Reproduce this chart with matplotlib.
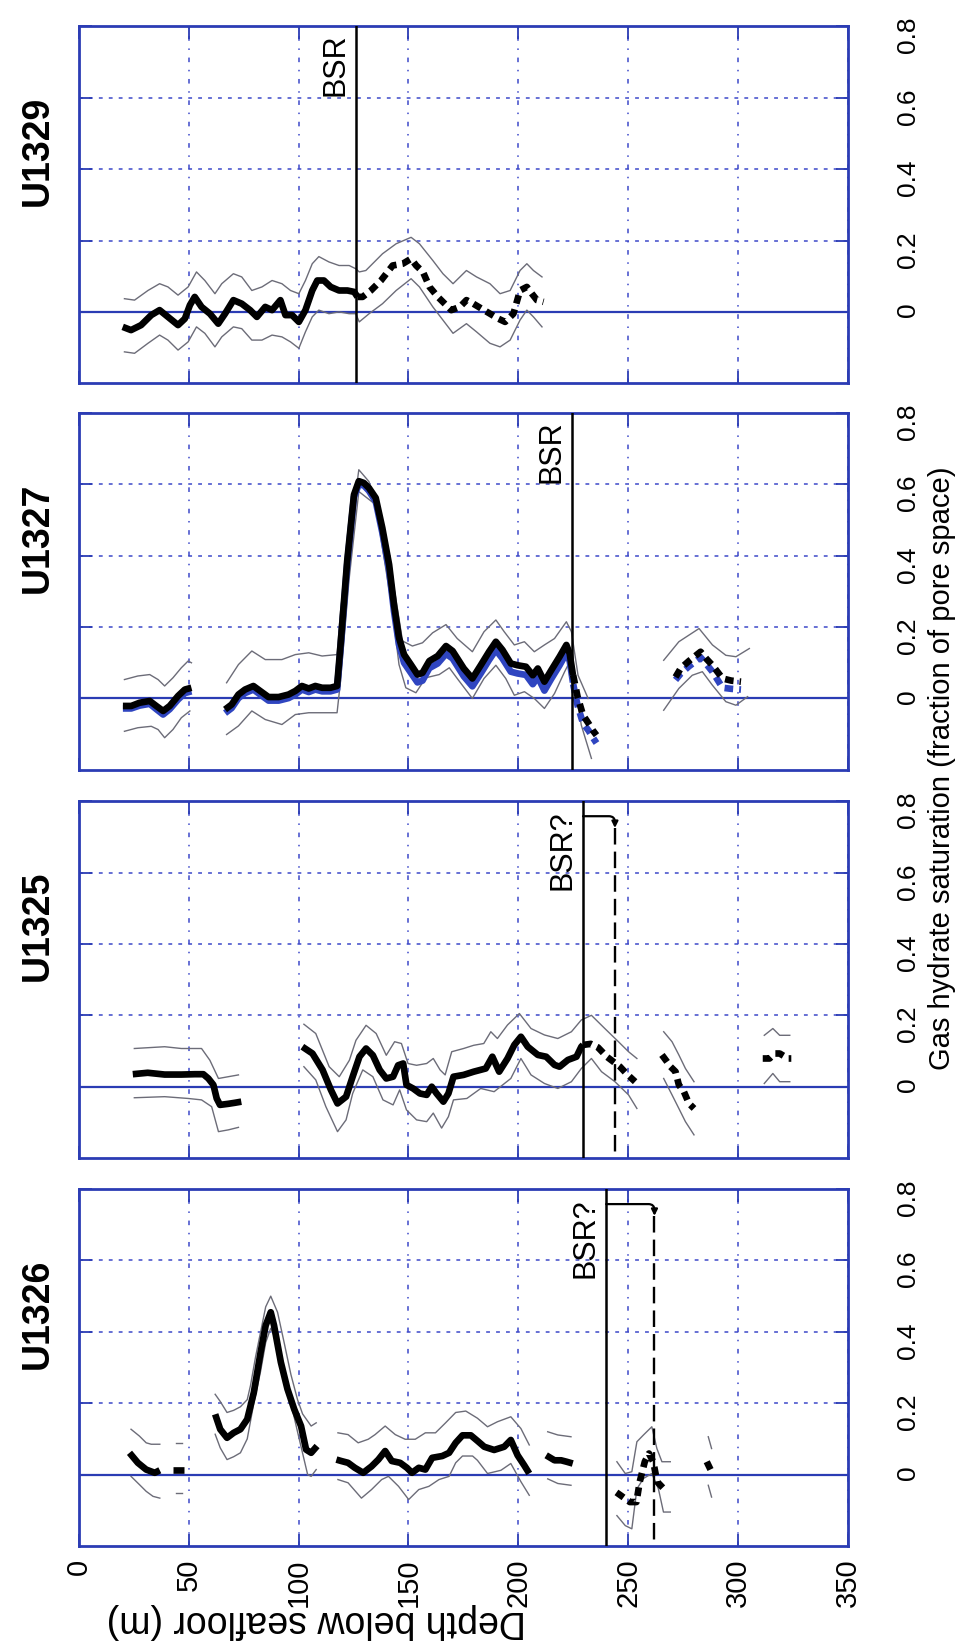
import matplotlib
matplotlib.use('Agg')
import matplotlib.pyplot as plt

plt.rcParams['font.family'] = ['Liberation Sans', 'DejaVu Sans']

BLUE = '#2b3cb4'
GRIDC = '#3d49c9'
GREY = '#6c6c78'
LINEBLUE = '#2f45c0'

DEPTH_TICKS = [0, 50, 100, 150, 200, 250, 300, 350]
DEPTH_LABELS = ['0', '50', '100', '150', '200', '250', '300', '350']
SAT_TICKS = [0, 0.2, 0.4, 0.6, 0.8]
SAT_LABELS = ['0', '0.2', '0.4', '0.6', '0.8']
SITES = ['U1329', 'U1327', 'U1325', 'U1326']

# ---------------- U1326 ----------------
U1326_BSR = 240.0
U1326_ALT = 262.0
u1326_mA_d = [23.0, 26.8, 30.6, 34.5, 36.8]
u1326_mA_v = [0.061, 0.033, 0.014, 0.005, 0.012]
u1326_uA_d = [23.7, 27.5, 30.6, 32.9, 36.8]
u1326_uA_v = [0.127, 0.108, 0.089, 0.085, 0.085]
u1326_lA_d = [23.7, 27.5, 30.6, 33.7, 36.8]
u1326_lA_v = [-0.005, -0.028, -0.047, -0.061, -0.066]
u1326_mA2_d = [43.0, 48.0]
u1326_mA2_v = [0.014, 0.014]
u1326_uA2_d = [44.0, 47.0]
u1326_uA2_v = [0.089, 0.089]
u1326_lA2_d = [44.0, 47.0]
u1326_lA2_v = [-0.052, -0.052]
u1326_mB_d = [62.0, 64.3, 67.4, 70.4, 73.5, 76.6, 79.6, 82.7, 85.0, 87.3, 88.8, 91.9, 94.9, 98.0, 101.1, 103.4, 105.7, 108.4]
u1326_mB_v = [0.169, 0.127, 0.103, 0.117, 0.127, 0.155, 0.230, 0.343, 0.418, 0.455, 0.418, 0.315, 0.240, 0.183, 0.136, 0.070, 0.061, 0.080]
u1326_uB_d = [62.0, 64.3, 67.4, 70.4, 73.5, 76.6, 78.1, 80.4, 82.7, 85.0, 87.3, 90.4, 93.4, 96.5, 99.5, 101.8, 105.7, 108.0]
u1326_uB_v = [0.225, 0.205, 0.174, 0.180, 0.190, 0.210, 0.250, 0.330, 0.400, 0.470, 0.500, 0.455, 0.370, 0.280, 0.210, 0.170, 0.136, 0.145]
u1326_lB_d = [62.0, 64.3, 67.4, 70.4, 73.5, 76.6, 79.6, 82.7, 85.0, 87.3, 90.4, 93.4, 96.5, 99.5, 101.8, 104.1, 105.7, 108.0]
u1326_lB_v = [0.113, 0.075, 0.042, 0.050, 0.061, 0.100, 0.200, 0.290, 0.370, 0.410, 0.370, 0.290, 0.200, 0.120, 0.060, 0.000, -0.005, 0.014]
u1326_mC_d = [117.2, 119.4, 122.5, 125.6, 129.4, 133.2, 136.3, 139.4, 142.4, 146.2, 149.3, 151.6, 154.7, 157.7, 160.8, 165.4, 168.5, 171.5, 174.6, 178.4, 181.5, 184.5, 189.0, 193.6, 196.6, 199.7, 202.7, 205.0]
u1326_mC_v = [0.042, 0.038, 0.033, 0.019, 0.005, 0.023, 0.042, 0.066, 0.038, 0.033, 0.019, 0.005, 0.019, 0.014, 0.047, 0.052, 0.061, 0.089, 0.110, 0.110, 0.094, 0.078, 0.069, 0.078, 0.097, 0.054, 0.026, 0.003]
u1326_uC_d = [117.9, 122.5, 127.1, 131.7, 134.8, 139.4, 144.0, 148.5, 153.1, 157.7, 162.3, 166.9, 171.5, 176.1, 181.4, 186.0, 190.5, 196.6, 201.2, 205.0]
u1326_uC_v = [0.117, 0.112, 0.089, 0.099, 0.112, 0.136, 0.112, 0.099, 0.099, 0.117, 0.117, 0.145, 0.174, 0.178, 0.158, 0.134, 0.148, 0.162, 0.129, 0.083]
u1326_lC_d = [117.9, 122.5, 128.6, 133.2, 137.8, 140.9, 145.5, 150.1, 154.7, 159.3, 163.9, 168.5, 171.5, 174.6, 179.2, 181.4, 186.0, 192.1, 196.6, 201.2, 205.0]
u1326_lC_v = [-0.014, -0.023, -0.066, -0.042, -0.014, -0.005, -0.033, -0.070, -0.042, -0.033, -0.014, -0.005, 0.033, 0.052, 0.052, 0.040, 0.003, 0.012, 0.031, -0.020, -0.058]
u1326_mD_d = [212.7, 216.5, 219.5, 222.0, 224.8]
u1326_mD_v = [0.054, 0.040, 0.040, 0.036, 0.031]
u1326_uD_d = [213.4, 218.0, 224.0]
u1326_uD_v = [0.120, 0.111, 0.106]
u1326_lD_d = [213.4, 218.0, 224.0]
u1326_lD_v = [-0.012, -0.025, -0.030]
u1326_mE_d = [244.7, 247.0, 250.8, 253.8, 255.3, 257.6, 259.5, 261.5, 263.2, 266.3]
u1326_mE_v = [-0.050, -0.060, -0.077, -0.077, -0.020, 0.036, 0.059, 0.035, -0.020, -0.040]
u1326_uE_d = [244.9, 248.7, 251.7, 254.0, 257.0, 260.8, 263.1, 265.4, 269.2]
u1326_uE_v = [0.036, 0.003, 0.008, 0.092, 0.111, 0.134, 0.073, 0.036, 0.036]
u1326_lE_d = [244.9, 248.7, 251.7, 254.0, 257.0, 260.8, 263.8, 266.1, 269.2]
u1326_lE_v = [-0.115, -0.143, -0.152, -0.040, -0.011, 0.003, -0.040, -0.105, -0.105]
u1326_mF_d = [285.8, 288.0]
u1326_mF_v = [0.036, 0.008]
u1326_uF_d = [286.5, 288.0]
u1326_uF_v = [0.106, 0.073]
u1326_lF_d = [286.5, 288.0]
u1326_lF_v = [-0.030, -0.063]

# ---------------- U1325 ----------------
U1325_BSR = 229.5
U1325_ALT = 244.0
u1325_mA_d = [24.5, 31.3, 39.0, 46.6, 52.8, 56.6, 58.9, 61.2, 62.7, 64.2, 68.0, 71.1, 73.9]
u1325_mA_v = [0.035, 0.039, 0.034, 0.034, 0.035, 0.035, 0.023, 0.005, -0.033, -0.051, -0.048, -0.045, -0.042]
u1325_uA_d = [25.2, 39.0, 46.6, 55.8, 59.6, 63.5, 68.0, 72.6]
u1325_uA_v = [0.107, 0.112, 0.107, 0.107, 0.074, 0.023, 0.028, 0.033]
u1325_lA_d = [25.2, 39.0, 49.7, 55.8, 60.4, 63.5, 68.0, 72.6]
u1325_lA_v = [-0.031, -0.028, -0.033, -0.037, -0.056, -0.126, -0.121, -0.114]
u1325_mB_d = [101.7, 106.3, 110.9, 114.7, 117.7, 121.6, 124.6, 127.7, 130.7, 133.8, 136.9, 139.9, 143.0, 145.3, 147.6, 149.1, 152.1, 155.2, 158.3, 160.6, 162.8, 165.9, 168.2, 170.5, 175.1, 179.7, 185.2, 188.2, 191.3, 195.1, 198.2, 201.2, 204.3, 208.9, 212.7, 216.5, 218.8, 222.6, 226.5, 228.7, 229.5]
u1325_mB_v = [0.112, 0.093, 0.047, -0.009, -0.047, -0.028, 0.028, 0.084, 0.107, 0.088, 0.047, 0.023, 0.028, 0.060, 0.065, 0.005, -0.005, -0.019, -0.023, 0.000, -0.019, -0.042, -0.019, 0.028, 0.033, 0.042, 0.051, 0.084, 0.042, 0.079, 0.117, 0.140, 0.112, 0.089, 0.084, 0.061, 0.056, 0.075, 0.084, 0.112, 0.117]
u1325_uB_d = [102.4, 107.8, 113.9, 118.5, 123.1, 126.1, 130.7, 135.3, 139.9, 143.7, 146.8, 149.8, 153.7, 158.3, 161.3, 164.4, 166.7, 169.7, 175.1, 179.7, 184.3, 187.5, 190.5, 195.1, 200.5, 205.8, 211.9, 218.0, 224.2, 228.7, 233.3, 239.4, 245.6, 250.2, 254.0]
u1325_uB_v = [0.175, 0.149, 0.056, 0.028, 0.074, 0.130, 0.172, 0.149, 0.088, 0.126, 0.121, 0.065, 0.060, 0.065, 0.079, 0.047, 0.033, 0.098, 0.107, 0.116, 0.121, 0.154, 0.135, 0.173, 0.205, 0.163, 0.145, 0.135, 0.154, 0.187, 0.200, 0.163, 0.126, 0.098, 0.079]
u1325_lB_d = [102.4, 107.8, 112.4, 117.7, 121.6, 124.6, 129.2, 133.8, 138.4, 143.0, 146.0, 149.1, 153.7, 158.3, 161.3, 165.1, 168.2, 170.5, 176.6, 182.9, 189.0, 196.6, 201.2, 205.8, 211.9, 218.0, 224.2, 228.7, 233.3, 237.9, 244.0, 250.2, 254.0]
u1325_lB_v = [0.056, 0.019, -0.056, -0.126, -0.093, -0.019, 0.047, 0.028, -0.037, -0.051, -0.009, -0.065, -0.093, -0.098, -0.074, -0.116, -0.084, -0.037, -0.033, -0.005, -0.014, 0.023, 0.079, 0.033, 0.009, -0.005, 0.014, 0.051, 0.079, 0.042, 0.014, -0.023, -0.061]
u1325_mC_d = [229.5, 233.0, 236.3, 240.5, 246.3, 249.5, 253.2]
u1325_mC_v = [0.117, 0.120, 0.110, 0.083, 0.056, 0.035, 0.014]
u1325_mD_d = [265.4, 267.7, 269.3, 271.6, 273.1, 275.4, 277.7, 280.0]
u1325_mD_v = [0.089, 0.070, 0.056, 0.042, 0.005, -0.014, -0.047, -0.061]
u1325_uD_d = [266.2, 270.0, 273.1, 276.1, 280.0]
u1325_uD_v = [0.154, 0.126, 0.089, 0.051, 0.014]
u1325_lD_d = [266.2, 270.0, 273.1, 276.1, 280.0]
u1325_lD_v = [0.023, -0.023, -0.061, -0.098, -0.135]
u1325_mE_d = [311.3, 314.4, 316.7, 319.0, 322.8, 324.3]
u1325_mE_v = [0.079, 0.079, 0.093, 0.093, 0.079, 0.079]
u1325_uE_d = [312.0, 315.9, 319.0, 323.6]
u1325_uE_v = [0.144, 0.163, 0.144, 0.144]
u1325_lE_d = [312.0, 315.9, 319.0, 323.6]
u1325_lE_v = [0.009, 0.037, 0.014, 0.014]

# ---------------- U1327 ----------------
U1327_BSR = 224.5
u1327_mA_d = [20.0, 23.8, 27.6, 32.2, 35.2, 38.3, 41.3, 45.1, 48.2, 51.2]
u1327_mA_v = [-0.021, -0.021, -0.012, -0.007, -0.021, -0.035, -0.021, 0.007, 0.025, 0.030]
u1327_bA_v = [-0.028, -0.028, -0.020, -0.015, -0.030, -0.045, -0.030, -0.003, 0.015, 0.020]
u1327_uA_d = [20.7, 26.8, 32.2, 36.0, 39.0, 42.8, 46.6, 49.7, 51.2]
u1327_uA_v = [0.053, 0.063, 0.067, 0.053, 0.035, 0.058, 0.086, 0.105, 0.100]
u1327_lA_d = [20.7, 26.8, 32.9, 36.0, 39.0, 42.8, 46.6, 50.5]
u1327_lA_v = [-0.092, -0.082, -0.078, -0.087, -0.110, -0.087, -0.054, -0.035]
u1327_mB_d = [66.5, 69.5, 72.6, 75.6, 79.4, 82.5, 86.3, 90.9, 95.4, 98.5, 101.5, 104.6, 107.6, 110.7, 114.5, 117.5,
              119.1, 122.1, 125.2, 127.4, 129.7, 132.0, 135.1, 138.1, 141.2, 143.4, 145.7, 148.0, 151.1, 154.1, 156.4, 159.5, 163.3, 167.1, 170.1,
              175.2, 179.1, 182.9, 186.7, 189.8, 192.8, 196.6, 199.7, 203.5, 206.6, 208.9, 211.9, 215.0, 218.8, 221.9, 223.4, 224.9]
u1327_mB_v = [-0.031, -0.017, 0.011, 0.025, 0.035, 0.021, 0.004, 0.004, 0.011, 0.021, 0.035, 0.028, 0.035, 0.030, 0.030, 0.035,
              0.151, 0.385, 0.571, 0.609, 0.604, 0.590, 0.562, 0.478, 0.375, 0.263, 0.170, 0.123, 0.095, 0.067, 0.072, 0.105, 0.119, 0.147, 0.133,
              0.084, 0.056, 0.093, 0.131, 0.159, 0.136, 0.098, 0.093, 0.089, 0.065, 0.084, 0.047, 0.079, 0.117, 0.150, 0.126, 0.065]
u1327_bB_v = [-0.041, -0.027, 0.001, 0.015, 0.025, 0.011, -0.006, -0.006, 0.001, 0.011, 0.025, 0.018, 0.025, 0.020, 0.020, 0.025,
              0.140, 0.375, 0.565, 0.600, 0.597, 0.582, 0.552, 0.465, 0.360, 0.245, 0.150, 0.100, 0.072, 0.045, 0.050, 0.085, 0.098, 0.125, 0.112,
              0.062, 0.034, 0.070, 0.108, 0.136, 0.112, 0.075, 0.070, 0.066, 0.040, 0.060, 0.022, 0.055, 0.093, 0.127, 0.105, 0.045]
u1327_uB_d = [67.2, 72.6, 78.7, 84.8, 92.4, 98.5, 104.6, 110.7, 117.5, 119.1, 122.9, 127.4, 132.0, 138.1, 144.2, 147.3, 151.8, 156.4, 161.0, 167.1,
              172.2, 179.1, 184.4, 189.8, 193.6, 198.2, 202.8, 207.3, 211.9, 216.5, 221.9, 224.2, 227.2, 231.8]
u1327_uB_v = [0.044, 0.095, 0.133, 0.109, 0.109, 0.123, 0.128, 0.119, 0.123, 0.245, 0.431, 0.641, 0.608, 0.497, 0.282, 0.161, 0.147, 0.156, 0.184, 0.207,
              0.168, 0.131, 0.187, 0.220, 0.187, 0.150, 0.159, 0.131, 0.150, 0.168, 0.215, 0.187, 0.065, 0.000]
u1327_lB_d = [67.2, 72.6, 78.7, 84.8, 92.4, 98.5, 104.6, 110.7, 117.5, 119.1, 122.9, 127.4, 135.1, 142.7, 145.7, 148.8, 153.4, 157.9, 164.0, 168.6,
              172.2, 179.1, 184.4, 189.8, 194.3, 198.2, 202.8, 207.3, 211.9, 216.5, 221.1, 223.4, 225.7, 228.7, 233.3]
u1327_lB_v = [-0.101, -0.077, -0.035, -0.059, -0.073, -0.045, -0.040, -0.040, -0.040, 0.050, 0.330, 0.580, 0.543, 0.245, 0.095, 0.030, 0.016, 0.058, 0.067, 0.086,
              0.056, 0.000, 0.056, 0.093, 0.056, 0.009, 0.019, 0.000, -0.028, 0.014, 0.075, 0.103, 0.037, -0.075, -0.168]
u1327_mC_d = [225.0, 227.0, 229.5, 232.0, 234.0, 235.6]
u1327_mC_v = [0.065, 0.005, -0.047, -0.070, -0.090, -0.103]
u1327_bC_v = [0.040, -0.020, -0.070, -0.090, -0.110, -0.125]
u1327_mD_d = [271.6, 274.0, 277.7, 283.0, 285.8, 288.4, 293.0, 297.0, 301.4]
u1327_mD_v = [0.060, 0.085, 0.105, 0.131, 0.110, 0.093, 0.056, 0.050, 0.047]
u1327_bD_v = [0.052, 0.070, 0.090, 0.115, 0.095, 0.075, 0.030, 0.027, 0.025]
u1327_uD_d = [266.2, 273.1, 282.3, 288.4, 294.5, 299.1, 305.2]
u1327_uD_v = [0.107, 0.159, 0.196, 0.150, 0.121, 0.117, 0.140]
u1327_lD_d = [266.2, 273.1, 279.2, 283.8, 288.4, 294.5, 299.1, 304.4]
u1327_lD_v = [-0.033, 0.028, 0.065, 0.075, 0.037, -0.009, -0.019, 0.005]

# ---------------- U1329 ----------------
U1329_BSR = 126.0
u1329_mA_d = [19.9, 23.7, 28.3, 32.9, 36.7, 40.5, 45.1, 48.2, 50.5, 52.7, 55.8, 59.6, 63.4, 66.5, 70.3, 74.1, 77.9, 81.0, 84.8, 87.9, 91.7, 94.0, 97.0, 100.1, 103.1, 106.2, 108.5, 111.5, 114.6, 118.4, 122.2, 125.3, 126.8]
u1329_mA_v = [-0.042, -0.051, -0.037, -0.009, 0.005, -0.014, -0.037, -0.019, 0.019, 0.042, 0.014, -0.005, -0.033, -0.005, 0.033, 0.023, 0.005, -0.014, 0.014, 0.005, 0.033, -0.009, -0.009, -0.028, 0.005, 0.060, 0.088, 0.088, 0.070, 0.060, 0.060, 0.056, 0.042]
u1329_mB_d = [126.8, 129.1, 132.9, 137.5, 142.8, 147.4, 151.2, 153.5, 156.6, 159.6, 163.4, 166.5, 169.5, 173.4, 176.4, 179.5, 183.3, 187.1, 190.9, 194.0, 197.8, 200.8, 203.9, 206.2, 208.5, 211.5]
u1329_mB_v = [0.042, 0.042, 0.060, 0.088, 0.130, 0.135, 0.149, 0.130, 0.112, 0.070, 0.042, 0.023, 0.005, 0.014, 0.033, 0.023, 0.009, -0.005, -0.019, -0.028, -0.005, 0.060, 0.070, 0.051, 0.033, 0.028]
u1329_u_d = [20.7, 25.3, 31.4, 36.7, 40.5, 45.1, 49.7, 53.5, 57.3, 61.9, 65.0, 70.3, 74.1, 78.7, 83.3, 87.9, 92.4, 96.3, 100.1, 103.1, 106.2, 109.2, 113.8, 118.4, 123.0, 126.0, 127.6, 130.6, 138.2, 144.4, 151.2, 155.0, 161.1, 165.7, 170.3, 176.4, 181.0, 187.1, 191.7, 196.3, 200.8, 203.9, 206.9, 210.8]
u1329_u_v = [0.037, 0.033, 0.060, 0.079, 0.070, 0.047, 0.070, 0.112, 0.088, 0.051, 0.079, 0.107, 0.098, 0.060, 0.070, 0.088, 0.079, 0.060, 0.051, 0.088, 0.135, 0.155, 0.140, 0.130, 0.130, 0.121, 0.112, 0.116, 0.163, 0.191, 0.209, 0.191, 0.144, 0.107, 0.079, 0.116, 0.098, 0.079, 0.051, 0.060, 0.116, 0.135, 0.116, 0.098]
u1329_l_d = [20.7, 25.3, 31.4, 36.7, 40.5, 45.1, 49.7, 53.5, 57.3, 61.9, 65.0, 70.3, 74.1, 78.7, 83.3, 87.9, 92.4, 96.3, 100.1, 103.1, 106.2, 109.2, 113.8, 118.4, 123.0, 126.0, 127.6, 132.1, 138.2, 144.4, 151.2, 155.0, 161.1, 165.7, 170.3, 176.4, 181.0, 187.1, 191.7, 196.3, 200.8, 203.9, 206.9, 210.8]
u1329_l_v = [-0.112, -0.116, -0.088, -0.065, -0.079, -0.107, -0.084, -0.042, -0.060, -0.098, -0.070, -0.042, -0.047, -0.079, -0.079, -0.065, -0.070, -0.084, -0.102, -0.056, -0.014, 0.005, -0.005, 0.000, -0.005, -0.005, -0.028, -0.005, 0.023, 0.060, 0.093, 0.070, 0.014, -0.023, -0.060, -0.033, -0.056, -0.088, -0.098, -0.079, -0.023, 0.005, -0.014, -0.042]

# segment tables: (depths, values, dashed)
PANELS = {
    'U1329': dict(
        grey=[(u1329_u_d, u1329_u_v), (u1329_l_d, u1329_l_v)],
        blue=[],
        mean=[(u1329_mA_d, u1329_mA_v, False), (u1329_mB_d, u1329_mB_v, True)],
        bsr=U1329_BSR, alt=None, label='BSR'),
    'U1327': dict(
        grey=[(u1327_uA_d, u1327_uA_v), (u1327_lA_d, u1327_lA_v),
              (u1327_uB_d, u1327_uB_v), (u1327_lB_d, u1327_lB_v),
              (u1327_uD_d, u1327_uD_v), (u1327_lD_d, u1327_lD_v)],
        blue=[(u1327_mA_d, u1327_bA_v, False), (u1327_mB_d, u1327_bB_v, False),
              (u1327_mC_d, u1327_bC_v, True), (u1327_mD_d, u1327_bD_v, True)],
        mean=[(u1327_mA_d, u1327_mA_v, False), (u1327_mB_d, u1327_mB_v, False),
              (u1327_mC_d, u1327_mC_v, True), (u1327_mD_d, u1327_mD_v, True)],
        bsr=U1327_BSR, alt=None, label='BSR'),
    'U1325': dict(
        grey=[(u1325_uA_d, u1325_uA_v), (u1325_lA_d, u1325_lA_v),
              (u1325_uB_d, u1325_uB_v), (u1325_lB_d, u1325_lB_v),
              (u1325_uD_d, u1325_uD_v), (u1325_lD_d, u1325_lD_v),
              (u1325_uE_d, u1325_uE_v), (u1325_lE_d, u1325_lE_v)],
        blue=[],
        mean=[(u1325_mA_d, u1325_mA_v, False), (u1325_mB_d, u1325_mB_v, False),
              (u1325_mC_d, u1325_mC_v, True), (u1325_mD_d, u1325_mD_v, True),
              (u1325_mE_d, u1325_mE_v, True)],
        bsr=U1325_BSR, alt=U1325_ALT, label='BSR?'),
    'U1326': dict(
        grey=[(u1326_uA_d, u1326_uA_v), (u1326_lA_d, u1326_lA_v),
              (u1326_uA2_d, u1326_uA2_v), (u1326_lA2_d, u1326_lA2_v),
              (u1326_uB_d, u1326_uB_v), (u1326_lB_d, u1326_lB_v),
              (u1326_uC_d, u1326_uC_v), (u1326_lC_d, u1326_lC_v),
              (u1326_uD_d, u1326_uD_v), (u1326_lD_d, u1326_lD_v),
              (u1326_uE_d, u1326_uE_v), (u1326_lE_d, u1326_lE_v),
              (u1326_uF_d, u1326_uF_v), (u1326_lF_d, u1326_lF_v)],
        blue=[],
        mean=[(u1326_mA_d, u1326_mA_v, False), (u1326_mA2_d, u1326_mA2_v, False),
              (u1326_mB_d, u1326_mB_v, False), (u1326_mC_d, u1326_mC_v, False),
              (u1326_mD_d, u1326_mD_v, False), (u1326_mE_d, u1326_mE_v, True),
              (u1326_mF_d, u1326_mF_v, True)],
        bsr=U1326_BSR, alt=U1326_ALT, label='BSR?'),
}

fig = plt.figure(figsize=(9.55, 16.52), dpi=100)
LEFT, WIDTH, HEIGHT = 0.0827, 0.805, 0.216
BOTTOMS = {'U1329': 0.768, 'U1327': 0.534, 'U1325': 0.299, 'U1326': 0.0642}
DASH = (0, (1.3, 0.9))
THICK = 4.8

for site in SITES:
    p = PANELS[site]
    ax = fig.add_axes([LEFT, BOTTOMS[site], WIDTH, HEIGHT])
    ax.set_xlim(0, 350)
    ax.set_ylim(-0.2, 0.8)
    ax.set_xticks(DEPTH_TICKS)
    ax.set_yticks(SAT_TICKS)
    ax.set_yticklabels(SAT_LABELS)
    ax.set_xticklabels(DEPTH_LABELS)
    for s in ax.spines.values():
        s.set_color(BLUE)
        s.set_linewidth(2.0)
    ax.xaxis.grid(True, linestyle=(0, (3, 5, 1, 5)), color=GRIDC, lw=1.1)
    ax.yaxis.grid(True, linestyle=(0, (2.5, 4)), color=GRIDC, lw=1.1)
    ax.set_axisbelow(True)
    ax.tick_params(direction='in', length=9, width=1.3, color=BLUE,
                   top=True, bottom=True, left=True, right=True)
    ax.tick_params(axis='y', labelleft=False, labelright=True, labelrotation=90,
                   pad=35, labelsize=19)
    last = site == 'U1326'
    ax.tick_params(axis='x', labelbottom=last, labelrotation=90, pad=9, labelsize=21)
    ax.axhline(0, color=BLUE, lw=1.6, zorder=2)

    for d, v in p['grey']:
        ax.plot(d, v, color=GREY, lw=1.0, zorder=3)
    for d, v, dashed in p['blue']:
        ax.plot(d, v, color=LINEBLUE, lw=THICK, zorder=4,
                linestyle=DASH if dashed else '-', solid_capstyle='butt')
    for d, v, dashed in p['mean']:
        ax.plot(d, v, color='black', lw=THICK, zorder=5,
                linestyle=DASH if dashed else '-', solid_capstyle='butt',
                dash_capstyle='butt')

    ax.plot([p['bsr'], p['bsr']], [-0.2, 0.8], color='black', lw=1.8, zorder=6)
    ax.text(p['bsr'] - 2.5, 0.78 if p['alt'] is None else 0.775, p['label'],
            rotation=90, ha='right', va='top', fontsize=22, zorder=7)
    if p['alt'] is not None:
        ax.annotate('', xy=(p['alt'], 0.725), xytext=(p['bsr'], 0.758),
                    arrowprops=dict(arrowstyle='-|>', lw=1.6, color='black',
                                    connectionstyle='angle,angleA=0,angleB=90,rad=6',
                                    shrinkA=0, shrinkB=0, mutation_scale=9), zorder=6)
        ax.plot([p['alt'], p['alt']], [0.725, -0.2], color='black', lw=1.7,
                linestyle=(0, (7, 3)), zorder=6)

    ax.text(-0.053, 0.65, site, transform=ax.transAxes, rotation=90,
            fontsize=27, fontweight='bold', ha='center', va='center')

fig.text(0.9865, 0.535, 'Gas hydrate saturation (fraction of pore space)',
         rotation=90, ha='center', va='center', fontsize=21)
fig.text(316 / 955, 1 - 1621 / 1652, 'Depth below seafloor (m)',
         rotation=180, ha='center', va='center', fontsize=27)

fig.savefig('out.png', dpi=100)
